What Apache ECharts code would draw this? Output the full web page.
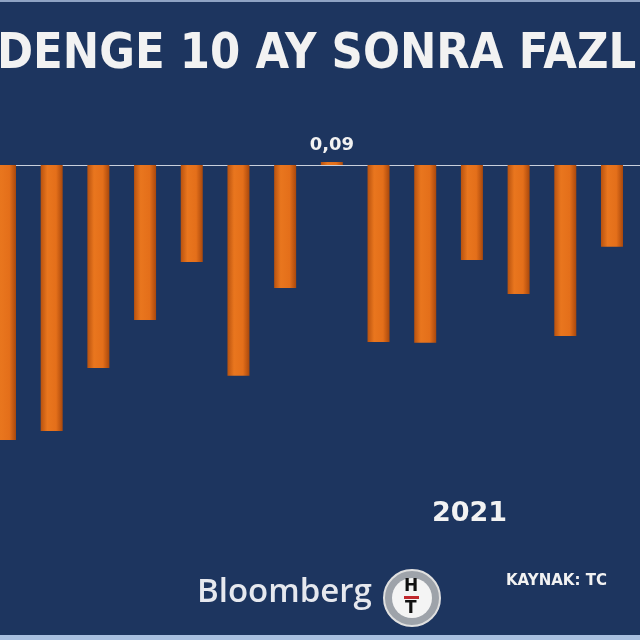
<!DOCTYPE html>
<html><head><meta charset="utf-8">
<script src="https://cdn.jsdelivr.net/npm/echarts@6/dist/echarts.min.js"></script>
<style>html,body{margin:0;padding:0;background:#1d355f}#c{width:640px;height:640px}</style>
</head><body><div id="c"></div>
<script>
const categories = ['1','2','3','4','5','6','7','8','9','10','11','12','13','14'];
const values = [-8.33, -8.06, -6.15, -4.70, -2.94, -6.39, -3.73, 0.09, -5.36, -5.39, -2.88, -3.91, -5.18, -2.48];
const chart = echarts.init(document.getElementById('c'));
chart.setOption({
  backgroundColor: '#1d355f',
  animation: false,
  grid: { left: 0, right: 0, top: 132, height: 495 },
  xAxis: { type: 'value', min: -0.107, max: 13.6, axisLine: { onZero: true, lineStyle: { color: '#c9d0dc', width: 1 } },
           axisTick: { show: false }, axisLabel: { show: false }, splitLine: { show: false } },
  yAxis: { type: 'value', min: -14, max: 1, show: false, splitLine: { show: false } },
  series: [{
    type: 'bar', data: values.map((v, i) => [i, v]), barWidth: 22,
    itemStyle: { color: new echarts.graphic.LinearGradient(0,0,1,0,[
      {offset:0,color:'#b8520f'},{offset:0.3,color:'#e9761e'},{offset:0.7,color:'#e46f1a'},{offset:1,color:'#a9480c'}]) },
    label: { show: true, position: 'top', distance: 8, color: '#f2f2f2', fontWeight: 'bold', fontSize: 18,
      fontFamily: 'DejaVu Sans',
      formatter: p => p.value[1] > 0 ? String(p.value[1]).replace('.', ',') : '' }
  }],
  graphic: [
    { type: 'rect', shape: { x: 0, y: 0, width: 640, height: 2 }, style: { fill: '#8fa3c4' } },
    { type: 'rect', shape: { x: 0, y: 635, width: 640, height: 5 }, style: { fill: '#a9c0e0' } },
    { type: 'text', x: -3, y: 30, scaleX: 0.87, style: { text: 'DENGE 10 AY SONRA FAZL', fill: '#f2f2f2', font: 'bold 50px "DejaVu Sans"' } },
    { type: 'text', left: 432, top: 500, style: { text: '2021', fill: '#f2f2f2', font: 'bold 27px "DejaVu Sans"' } },
    { type: 'text', left: 197, top: 576, style: { text: 'Bloomberg', fill: '#e6e8ee', font: '600 33px "Open Sans"' } },
    { type: 'circle', shape: { cx: 412, cy: 598, r: 28 }, style: { fill: '#9ea3aa', stroke: '#e0e0e0', lineWidth: 2 } },
    { type: 'circle', shape: { cx: 412, cy: 598, r: 20 }, style: { fill: '#f4f4f4' } },
    { type: 'text', left: 404, top: 578, style: { text: 'H', fill: '#111', font: 'bold 17px "DejaVu Sans"' } },
    { type: 'rect', shape: { x: 404, y: 596, width: 15, height: 3 }, style: { fill: '#c0282d' } },
    { type: 'text', left: 405, top: 600, style: { text: 'T', fill: '#111', font: 'bold 17px "DejaVu Sans"' } },
    { type: 'text', left: 506, top: 574, style: { text: 'KAYNAK: TC', fill: '#f2f2f2', font: 'bold 15px "DejaVu Sans"' } }
  ]
});
</script></body></html>
